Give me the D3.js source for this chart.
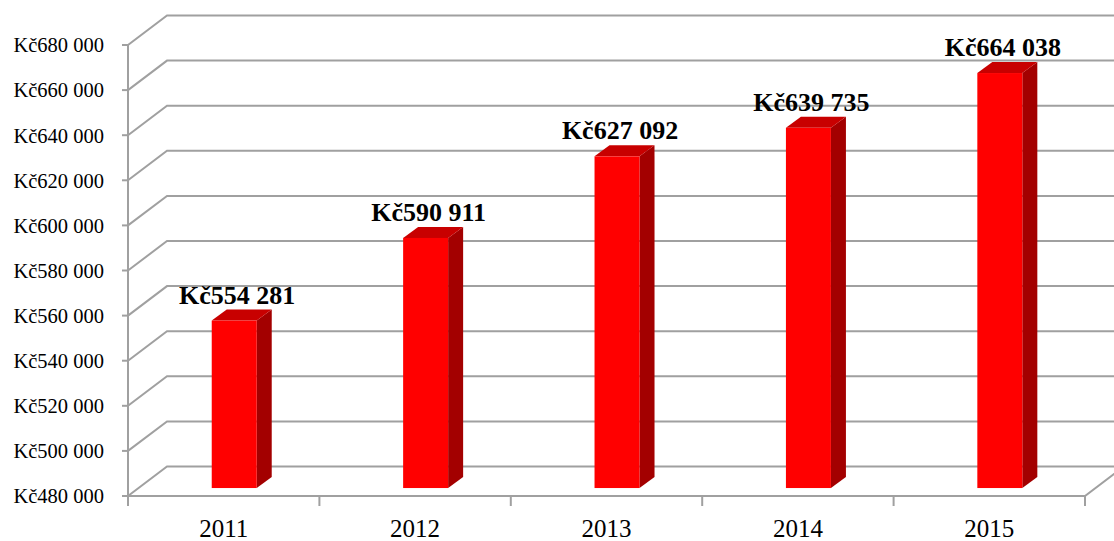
<!DOCTYPE html>
<html>
<head>
<meta charset="utf-8">
<script src="https://cdn.jsdelivr.net/npm/d3@7"></script>
<style>
	body { margin: 0; background: #fff; }
	svg { display: block; }
</style>
</head>
<body>
<div id="chart"></div>
<script>
// values
const years = ["2011", "2012", "2013", "2014", "2015"]
const amounts = [554281, 590911, 627092, 639735, 664038]
const yTicks = [480000, 500000, 520000, 540000, 560000, 580000, 600000, 620000, 640000, 660000, 680000]

const svgWidth = 1114
const svgHeight = 541

// 3d depth of the plot box
const depthX = 39, depthY = -29.5
// bars sit this far into the depth
const barShift = 0.27

const fmt = v => "Kč" + d3.format(",")(v).replace(/,/g, " ")

let svg = d3.select("#chart")
	.append("svg")
	.attr("width", svgWidth)
	.attr("height", svgHeight)

var y = d3.scaleLinear()
	.domain([480000, 680000])
	.range([496, 45])

var x = d3.scaleBand()
	.domain(years)
	.range([128, 1085])

const left = 128, right = 1085
const gridColor = "#a0a0a0"

let grid = svg.append("g")
	.attr("stroke", gridColor)
	.attr("stroke-width", 2)
	.attr("fill", "none")

// back wall lines + side wall slants
yTicks.forEach(t => {
	grid.append("path")
		.attr("d", "M" + left + "," + y(t) + "L" + (left + depthX) + "," + (y(t) + depthY) + "L" + (svgWidth + 10) + "," + (y(t) + depthY))
})

// front axis line
grid.append("line")
	.attr("x1", left).attr("x2", left)
	.attr("y1", y(680000)).attr("y2", y(480000) + 10)

// floor front edge and right slant
grid.append("path")
	.attr("d", "M" + left + "," + y(480000) + "L" + right + "," + y(480000) + "L" + (right + depthX) + "," + (y(480000) + depthY))

// y ticks
yTicks.forEach(t => {
	grid.append("line")
		.attr("x1", left - 6).attr("x2", left)
		.attr("y1", y(t)).attr("y2", y(t))
})

// category ticks below floor
x.domain().concat(["end"]).forEach((d, i) => {
	const xx = i < years.length ? x(d) : right
	grid.append("line")
		.attr("x1", xx).attr("x2", xx)
		.attr("y1", y(480000)).attr("y2", y(480000) + 10)
})

// y labels
svg.append("g").selectAll("text")
	.data(yTicks)
	.enter()
	.append("text")
	.attr("x", 104)
	.attr("y", d => y(d))
	.attr("dy", "0.36em")
	.attr("text-anchor", "end")
	.attr("font-family", "'Liberation Serif', 'Times New Roman', serif")
	.attr("font-size", "20.5px")
	.attr("fill", "#000")
	.text(d => fmt(d))

// x labels
svg.append("g").selectAll("text")
	.data(years)
	.enter()
	.append("text")
	.attr("x", d => x(d) + x.bandwidth() / 2)
	.attr("y", 537)
	.attr("text-anchor", "middle")
	.attr("font-family", "'Liberation Serif', 'Times New Roman', serif")
	.attr("font-size", "25px")
	.attr("fill", "#000")
	.text(d => d)

// bars
const barW = 45
const bdx = 15, bdy = -11
const offX = depthX * barShift, offY = depthY * barShift

let bars = svg.append("g").selectAll("g.bar")
	.data(years.map((d, i) => ({ year: d, value: amounts[i] })))
	.enter()
	.append("g")
	.attr("class", "bar")

bars.each(function(d) {
	const g = d3.select(this)
	const x0 = x(d.year) + x.bandwidth() / 2 - barW / 2 + offX
	const x1 = x0 + barW
	const yb = y(480000) + offY
	const yt = y(d.value) + offY

	// side
	g.append("path")
		.attr("fill", "#a30000")
		.attr("d", "M" + x1 + "," + yt + "L" + (x1 + bdx) + "," + (yt + bdy) + "L" + (x1 + bdx) + "," + (yb + bdy) + "L" + x1 + "," + yb + "Z")
	// top
	g.append("path")
		.attr("fill", "#c80000")
		.attr("d", "M" + x0 + "," + yt + "L" + (x0 + bdx) + "," + (yt + bdy) + "L" + (x1 + bdx) + "," + (yt + bdy) + "L" + x1 + "," + yt + "Z")
	// front
	g.append("rect")
		.attr("fill", "#ff0000")
		.attr("x", x0)
		.attr("y", yt)
		.attr("width", barW)
		.attr("height", yb - yt)

	g.append("text")
		.attr("x", (x0 + x1) / 2 + 3)
		.attr("y", yt + bdy - 6)
		.attr("text-anchor", "middle")
		.attr("font-family", "'Liberation Serif', 'Times New Roman', serif")
		.attr("font-weight", "bold")
		.attr("font-size", "26px")
		.attr("fill", "#000")
		.text(fmt(d.value))
})
</script>
</body>
</html>
